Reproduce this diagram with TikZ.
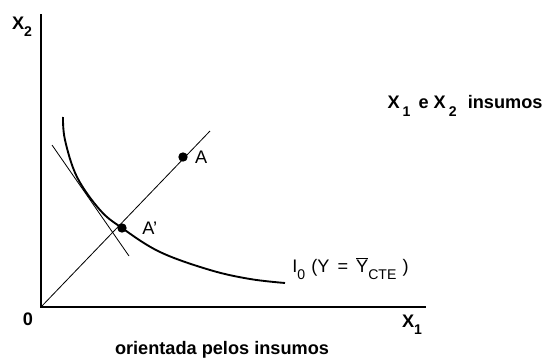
\documentclass[tikz,border=0pt]{standalone}
\usepackage{fontspec}
\setmainfont{Liberation Sans}
\setsansfont{Liberation Sans}
\usetikzlibrary{positioning}
\newcommand{\lowidx}[1]{\raisebox{-0.75ex}{\fontsize{12}{13}\selectfont #1}}
\begin{document}
\begin{tikzpicture}[
        x=0.03cm, y=-0.03cm,
        axis/.style={line width=1.7pt},
        thinline/.style={line width=0.7pt},
        curve/.style={line width=1.6pt},
        dot/.style={circle, fill, inner sep=0pt, minimum size=8pt},
        boldtext/.style={font=\bfseries\fontsize{15.5}{17}\selectfont, inner sep=1pt},
        plaintext/.style={font=\fontsize{15.5}{17}\selectfont, inner sep=1pt}
    ]
        \useasboundingbox (0,0) rectangle (546,362);
        % axes
        \coordinate (O) at (41,307);
        \coordinate (ytop) at (41,14);
        \coordinate (xend) at (426,307);
        \draw[axis] (ytop) -- (O) -- (xend);
        \node[boldtext] (x2lab) at (22,27) {X\lowidx{2}};
        \node[boldtext] (zero) at (28,319) {0};
        \node[boldtext] (x1lab) at (412,325) {X\lowidx{1}};
        % ray from the origin and tangent line
        \coordinate (rayend) at (210,131);
        \coordinate (t1) at (52,145);
        \coordinate (t2) at (129,256);
        \draw[thinline] (O) -- (rayend);
        \draw[thinline] (t1) -- (t2);
        % isoquant
        \draw[curve] plot[smooth, tension=0.6] coordinates
            {(63,117) (65,140) (77,177) (100,210) (122,228) (160,252) (210,270) (250,279) (285,283)};
        \node[plaintext, anchor=west] (isolab) at (291,269)
            {I\lowidx{0}\,\,(Y \,=\, $\overline{\mbox{Y}}$\lowidx{CTE}\,\,)};
        % points
        \node[dot] (A) at (183,157) {};
        \node[dot] (Ap) at (122,228) {};
        \node[plaintext, right=5pt of A] (Alab) {A};
        \node[plaintext, right=12pt of Ap] (Aplab) {A'};
        \node[boldtext] (inputs) at (465,106) {X\,\lowidx{1}\, e X\,\lowidx{2}\,\, insumos};
        \node[boldtext] (caption) at (222,350) {orientada pelos insumos};
    \end{tikzpicture}
\end{document}
